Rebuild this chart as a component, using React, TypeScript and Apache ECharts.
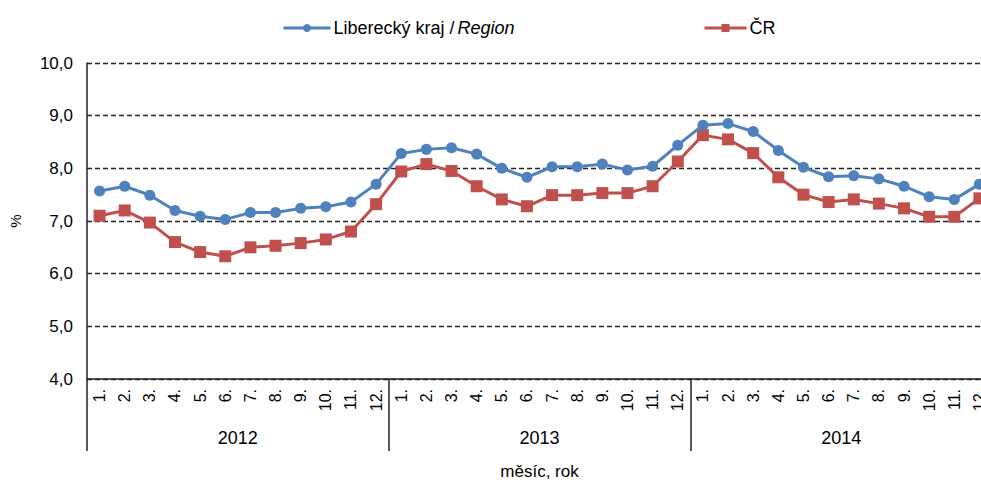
import React, { useEffect, useRef } from "react";
import * as echarts from "echarts";

const months: string[] = [
  "1.", "2.", "3.", "4.", "5.", "6.", "7.", "8.", "9.", "10.", "11.", "12.",
  "1.", "2.", "3.", "4.", "5.", "6.", "7.", "8.", "9.", "10.", "11.", "12.",
  "1.", "2.", "3.", "4.", "5.", "6.", "7.", "8.", "9.", "10.", "11.", "12.",
];
const years: string[] = ["2012", "2013", "2014"];

const liberec: number[] = [
  7.57, 7.66, 7.49, 7.2, 7.09, 7.03, 7.16, 7.16, 7.24, 7.27, 7.36, 7.7,
  8.28, 8.36, 8.39, 8.27, 8.0, 7.83, 8.03, 8.03, 8.08, 7.97, 8.04, 8.44,
  8.82, 8.85, 8.7, 8.34, 8.02, 7.84, 7.86, 7.8, 7.66, 7.46, 7.41, 7.7,
];
const cr: number[] = [
  7.1, 7.2, 6.97, 6.6, 6.41, 6.33, 6.5, 6.53, 6.58, 6.65, 6.8, 7.32,
  7.94, 8.08, 7.95, 7.66, 7.41, 7.28, 7.49, 7.49, 7.53, 7.53, 7.66, 8.13,
  8.63, 8.55, 8.29, 7.83, 7.5, 7.36, 7.41, 7.33, 7.24, 7.08, 7.08, 7.43,
];

const NAME_LIB = "Liberecký kraj / Region";
const NAME_CR = "ČR";
const FONT = "Liberation Sans, Arial, sans-serif";

export default function App() {
  const ref = useRef<HTMLDivElement>(null);
  useEffect(() => {
    if (!ref.current) return;
    const chart = echarts.init(ref.current, undefined, { renderer: "svg" });
    chart.setOption({
      animation: false,
      backgroundColor: "#fff",
      textStyle: { fontFamily: FONT },
      legend: [
        {
          data: [NAME_LIB],
          left: 277,
          top: 14,
          itemWidth: 47,
          itemHeight: 10,
          itemGap: 0,
          lineStyle: { width: 3 },
          formatter: () => "{a|Liberecký kraj /}{b|Region}",
          textStyle: {
            fontSize: 18,
            color: "#000",
            padding: [0, 0, 0, -2],
            rich: {
              a: { fontSize: 18, color: "#000", fontFamily: FONT },
              b: { fontSize: 18, color: "#000", fontStyle: "italic", fontFamily: FONT, padding: [0, 0, 0, 3] },
            },
          },
        },
        {
          data: [NAME_CR],
          left: 698,
          top: 14,
          itemWidth: 42,
          itemHeight: 10,
          lineStyle: { width: 3 },
          textStyle: { fontSize: 18, color: "#000", padding: [0, 0, 0, -2] },
        },
      ],
      grid: { left: 86, top: 63, width: 906, height: 318, containLabel: false },
      xAxis: [
        {
          type: "category",
          data: months,
          position: "bottom",
          boundaryGap: true,
          axisLine: { show: true, lineStyle: { color: "#222", width: 1.5 } },
          axisTick: { show: false },
          axisLabel: { rotate: 90, margin: 10, fontSize: 16, color: "#000", interval: 0 },
          splitLine: { show: false },
        },
        {
          type: "category",
          data: years,
          position: "bottom",
          boundaryGap: true,
          axisLine: { show: false },
          axisTick: { show: true, length: 72, interval: 0, lineStyle: { color: "#222", width: 1.5 } },
          axisLabel: { margin: 50, fontSize: 18, color: "#000", interval: 0 },
          name: "měsíc, rok",
          nameLocation: "middle",
          nameGap: 84,
          nameTextStyle: { fontSize: 17, color: "#000" },
        },
      ],
      yAxis: {
        type: "value",
        min: 4,
        max: 10,
        interval: 1,
        axisLine: { show: true, lineStyle: { color: "#222", width: 1.5 } },
        axisTick: { show: false },
        axisLabel: {
          margin: 14,
          fontSize: 17,
          color: "#000",
          formatter: (v: number) => v.toFixed(1).replace(".", ","),
        },
        splitLine: { show: true, lineStyle: { color: "#222", type: [5, 3], width: 1.3 } },
        name: "%",
        nameLocation: "middle",
        nameRotate: 90,
        nameGap: 64,
        nameTextStyle: { fontSize: 15, color: "#000" },
      },
      series: [
        {
          name: NAME_LIB,
          type: "line",
          xAxisIndex: 0,
          data: liberec,
          symbol: "circle",
          symbolSize: 11,
          lineStyle: { color: "#4F81BD", width: 3 },
          itemStyle: { color: "#4F81BD" },
          z: 3,
        },
        {
          name: NAME_CR,
          type: "line",
          xAxisIndex: 0,
          data: cr,
          symbol: "rect",
          symbolSize: 12,
          lineStyle: { color: "#C0504D", width: 3 },
          itemStyle: { color: "#C0504D" },
          z: 2,
        },
      ],
    });
    return () => chart.dispose();
  }, []);
  return (
    <div
      style={{
        position: "fixed",
        left: 0,
        top: 0,
        width: 981,
        height: 485,
        overflow: "hidden",
        background: "#fff",
      }}
    >
      <div ref={ref} style={{ width: 1010, height: 485 }} />
    </div>
  );
}
